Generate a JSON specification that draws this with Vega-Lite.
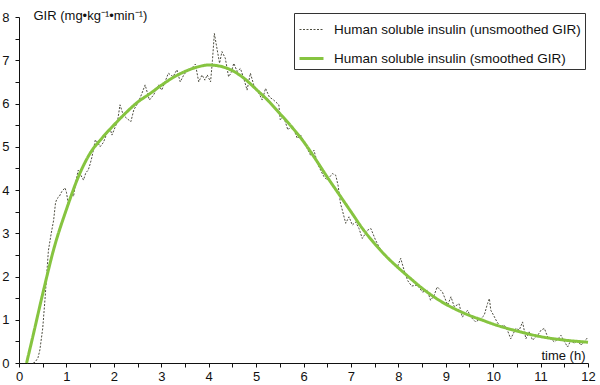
{
  "$schema": "https://vega.github.io/schema/vega-lite/v6.json",
  "autosize": "none",
  "width": 569,
  "height": 346,
  "padding": {"left": 19, "top": 17, "right": 12, "bottom": 22},
  "background": "white",
  "config": {"view": {"stroke": null}, "font": "Liberation Sans"},
  "datasets": {
    "unsmoothed": [
      {"t": 0.3, "gir": 0}, {"t": 0.34, "gir": 0.02}, {"t": 0.4, "gir": 0.12}, {"t": 0.44, "gir": 0.3}, {"t": 0.5, "gir": 0.8},
      {"t": 0.55, "gir": 1.5}, {"t": 0.62, "gir": 2.6}, {"t": 0.68, "gir": 3.0}, {"t": 0.73, "gir": 3.3}, {"t": 0.77, "gir": 3.7},
      {"t": 0.8, "gir": 3.8}, {"t": 0.85, "gir": 3.85}, {"t": 0.9, "gir": 3.96}, {"t": 0.97, "gir": 4.05}, {"t": 1.0, "gir": 3.95},
      {"t": 1.04, "gir": 3.68}, {"t": 1.08, "gir": 3.85}, {"t": 1.11, "gir": 3.92}, {"t": 1.15, "gir": 3.85}, {"t": 1.2, "gir": 4.2},
      {"t": 1.25, "gir": 4.46}, {"t": 1.3, "gir": 4.35}, {"t": 1.36, "gir": 4.23}, {"t": 1.41, "gir": 4.4}, {"t": 1.46, "gir": 4.46},
      {"t": 1.5, "gir": 4.6}, {"t": 1.54, "gir": 4.77}, {"t": 1.61, "gir": 5.16}, {"t": 1.66, "gir": 5.1}, {"t": 1.71, "gir": 5.0},
      {"t": 1.78, "gir": 5.1}, {"t": 1.85, "gir": 5.3}, {"t": 1.92, "gir": 5.43}, {"t": 1.96, "gir": 5.27}, {"t": 2.03, "gir": 5.46},
      {"t": 2.08, "gir": 5.6}, {"t": 2.13, "gir": 5.97}, {"t": 2.2, "gir": 5.73}, {"t": 2.28, "gir": 5.65}, {"t": 2.36, "gir": 5.58},
      {"t": 2.42, "gir": 5.85}, {"t": 2.52, "gir": 6.04}, {"t": 2.58, "gir": 6.2}, {"t": 2.66, "gir": 6.43}, {"t": 2.75, "gir": 6.08},
      {"t": 2.84, "gir": 6.2}, {"t": 2.94, "gir": 6.43}, {"t": 3.01, "gir": 6.31}, {"t": 3.08, "gir": 6.5}, {"t": 3.15, "gir": 6.7},
      {"t": 3.25, "gir": 6.62}, {"t": 3.33, "gir": 6.78}, {"t": 3.4, "gir": 6.5}, {"t": 3.47, "gir": 6.65}, {"t": 3.53, "gir": 6.74},
      {"t": 3.61, "gir": 6.78}, {"t": 3.67, "gir": 6.85}, {"t": 3.72, "gir": 6.91}, {"t": 3.79, "gir": 6.5}, {"t": 3.86, "gir": 6.66},
      {"t": 3.92, "gir": 6.54}, {"t": 3.97, "gir": 6.66}, {"t": 4.04, "gir": 6.5}, {"t": 4.08, "gir": 7.0}, {"t": 4.12, "gir": 7.62},
      {"t": 4.18, "gir": 7.24}, {"t": 4.23, "gir": 6.93}, {"t": 4.28, "gir": 7.2}, {"t": 4.35, "gir": 7.05}, {"t": 4.42, "gir": 6.62},
      {"t": 4.47, "gir": 6.7}, {"t": 4.53, "gir": 6.93}, {"t": 4.6, "gir": 6.74}, {"t": 4.67, "gir": 6.81}, {"t": 4.74, "gir": 6.58},
      {"t": 4.81, "gir": 6.31}, {"t": 4.88, "gir": 6.7}, {"t": 4.95, "gir": 6.43}, {"t": 5.03, "gir": 6.3}, {"t": 5.13, "gir": 6.08},
      {"t": 5.2, "gir": 6.35}, {"t": 5.28, "gir": 6.15}, {"t": 5.37, "gir": 6.08}, {"t": 5.48, "gir": 5.97}, {"t": 5.51, "gir": 5.62},
      {"t": 5.58, "gir": 5.7}, {"t": 5.67, "gir": 5.39}, {"t": 5.76, "gir": 5.5}, {"t": 5.87, "gir": 5.19}, {"t": 5.94, "gir": 5.27},
      {"t": 6.02, "gir": 5.1}, {"t": 6.08, "gir": 4.96}, {"t": 6.15, "gir": 4.8}, {"t": 6.22, "gir": 4.92}, {"t": 6.3, "gir": 4.6},
      {"t": 6.36, "gir": 4.46}, {"t": 6.43, "gir": 4.31}, {"t": 6.5, "gir": 4.23}, {"t": 6.61, "gir": 4.38}, {"t": 6.68, "gir": 4.34},
      {"t": 6.73, "gir": 4.1}, {"t": 6.78, "gir": 3.69}, {"t": 6.82, "gir": 3.53}, {"t": 6.89, "gir": 3.23}, {"t": 6.96, "gir": 3.38},
      {"t": 7.03, "gir": 3.19}, {"t": 7.1, "gir": 3.26}, {"t": 7.17, "gir": 3.11}, {"t": 7.24, "gir": 2.88}, {"t": 7.35, "gir": 3.07},
      {"t": 7.42, "gir": 3.11}, {"t": 7.52, "gir": 2.84}, {"t": 7.59, "gir": 2.69}, {"t": 7.66, "gir": 2.57}, {"t": 7.77, "gir": 2.42},
      {"t": 7.87, "gir": 2.34}, {"t": 7.98, "gir": 2.22}, {"t": 8.05, "gir": 2.42}, {"t": 8.12, "gir": 2.15}, {"t": 8.2, "gir": 1.9},
      {"t": 8.28, "gir": 1.78}, {"t": 8.4, "gir": 1.8}, {"t": 8.51, "gir": 1.64}, {"t": 8.61, "gir": 1.68}, {"t": 8.68, "gir": 1.45},
      {"t": 8.75, "gir": 1.55}, {"t": 8.82, "gir": 1.76}, {"t": 8.93, "gir": 1.64}, {"t": 9.04, "gir": 1.34}, {"t": 9.11, "gir": 1.53},
      {"t": 9.18, "gir": 1.3}, {"t": 9.28, "gir": 1.37}, {"t": 9.35, "gir": 1.06}, {"t": 9.46, "gir": 1.22}, {"t": 9.53, "gir": 1.06},
      {"t": 9.63, "gir": 0.95}, {"t": 9.74, "gir": 1.03}, {"t": 9.81, "gir": 1.1}, {"t": 9.88, "gir": 1.37}, {"t": 9.92, "gir": 1.49},
      {"t": 9.95, "gir": 1.22}, {"t": 10.01, "gir": 1.1}, {"t": 10.08, "gir": 0.95}, {"t": 10.16, "gir": 0.83}, {"t": 10.23, "gir": 0.88},
      {"t": 10.3, "gir": 0.76}, {"t": 10.37, "gir": 0.56}, {"t": 10.48, "gir": 0.8}, {"t": 10.55, "gir": 0.76}, {"t": 10.62, "gir": 0.95},
      {"t": 10.69, "gir": 0.56}, {"t": 10.76, "gir": 0.72}, {"t": 10.83, "gir": 0.53}, {"t": 10.94, "gir": 0.64}, {"t": 11.01, "gir": 0.76},
      {"t": 11.08, "gir": 0.8}, {"t": 11.15, "gir": 0.6}, {"t": 11.22, "gir": 0.55}, {"t": 11.29, "gir": 0.49}, {"t": 11.36, "gir": 0.55},
      {"t": 11.43, "gir": 0.64}, {"t": 11.5, "gir": 0.5}, {"t": 11.57, "gir": 0.37}, {"t": 11.64, "gir": 0.53}, {"t": 11.71, "gir": 0.45},
      {"t": 11.78, "gir": 0.53}, {"t": 11.85, "gir": 0.41}, {"t": 11.92, "gir": 0.49}, {"t": 12.0, "gir": 0.6}
    ],
    "smoothed": [
      {"t": 0.16, "gir": 0}, {"t": 0.3, "gir": 0.65}, {"t": 0.5, "gir": 1.6}, {"t": 0.75, "gir": 2.7}, {"t": 1.0, "gir": 3.55},
      {"t": 1.25, "gir": 4.3}, {"t": 1.5, "gir": 4.85}, {"t": 1.75, "gir": 5.2}, {"t": 2.0, "gir": 5.5}, {"t": 2.25, "gir": 5.78},
      {"t": 2.5, "gir": 6.03}, {"t": 2.75, "gir": 6.22}, {"t": 3.0, "gir": 6.42}, {"t": 3.25, "gir": 6.6}, {"t": 3.5, "gir": 6.74},
      {"t": 3.75, "gir": 6.84}, {"t": 4.0, "gir": 6.89}, {"t": 4.25, "gir": 6.86}, {"t": 4.5, "gir": 6.76}, {"t": 4.75, "gir": 6.58},
      {"t": 5.0, "gir": 6.33}, {"t": 5.25, "gir": 6.07}, {"t": 5.5, "gir": 5.77}, {"t": 5.75, "gir": 5.46}, {"t": 6.0, "gir": 5.12},
      {"t": 6.25, "gir": 4.72}, {"t": 6.5, "gir": 4.3}, {"t": 6.75, "gir": 3.9}, {"t": 7.0, "gir": 3.5}, {"t": 7.25, "gir": 3.1},
      {"t": 7.5, "gir": 2.76}, {"t": 7.75, "gir": 2.46}, {"t": 8.0, "gir": 2.2}, {"t": 8.25, "gir": 1.96}, {"t": 8.5, "gir": 1.73},
      {"t": 8.75, "gir": 1.53}, {"t": 9.0, "gir": 1.36}, {"t": 9.25, "gir": 1.22}, {"t": 9.5, "gir": 1.1}, {"t": 9.75, "gir": 1.0},
      {"t": 10.0, "gir": 0.9}, {"t": 10.5, "gir": 0.74}, {"t": 11.0, "gir": 0.61}, {"t": 11.5, "gir": 0.53}, {"t": 12.0, "gir": 0.48}
    ]
  },
  "encoding": {
    "x": {
      "field": "t", "type": "quantitative",
      "scale": {"domain": [0, 12], "nice": false},
      "axis": {
        "title": "time (h)", "titleX": 566, "titleY": -4, "titleAlign": "right", "titleAnchor": null,
        "titleBaseline": "alphabetic", "titleFontSize": 13, "titleFontWeight": "normal", "titleColor": "#111",
        "values": [0, 0.5, 1, 1.5, 2, 2.5, 3, 3.5, 4, 4.5, 5, 5.5, 6, 6.5, 7, 7.5, 8, 8.5, 9, 9.5, 10, 10.5, 11, 11.5, 12],
        "labelExpr": "datum.value % 1 === 0 ? format(datum.value, 'd') : ''",
        "labelFontSize": 13, "labelColor": "#111", "labelPadding": 3, "labelFlush": false,
        "tickSize": 4, "tickColor": "#111", "domainColor": "#111", "grid": false,
        "encode": {"ticks": {"update": {"y": [{"test": "datum.value % 1 === 0", "value": -4}, {"value": 0}]}}}
      }
    },
    "y": {
      "field": "gir", "type": "quantitative",
      "scale": {"domain": [0, 8], "nice": false},
      "axis": {
        "title": "GIR (mg•kg⁻¹•min⁻¹)", "titleAngle": 0, "titleAlign": "left", "titleAnchor": null,
        "titleBaseline": "alphabetic", "titleX": 14, "titleY": 2, "titleFontSize": 13, "titleFontWeight": "normal", "titleColor": "#111",
        "values": [0, 0.5, 1, 1.5, 2, 2.5, 3, 3.5, 4, 4.5, 5, 5.5, 6, 6.5, 7, 7.5, 8],
        "labelExpr": "datum.value % 1 === 0 ? format(datum.value, 'd') : ''",
        "labelFontSize": 13, "labelColor": "#111", "labelPadding": 6, "labelFlush": false,
        "tickSize": 4, "tickColor": "#111", "domainColor": "#111", "grid": false,
        "encode": {"ticks": {"update": {"x": [{"test": "datum.value % 1 === 0", "value": 4}, {"value": 0}]}}}
      }
    }
  },
  "layer": [
    {
      "data": {"name": "unsmoothed"},
      "mark": {"type": "line", "interpolate": "linear"},
      "encoding": {
        "color": {
          "datum": "Human soluble insulin (unsmoothed GIR)",
          "scale": {"domain": ["Human soluble insulin (unsmoothed GIR)", "Human soluble insulin (smoothed GIR)"], "range": ["#4d4d40", "#86c440"]},
          "legend": {"title": null, "orient": "none", "legendX": 275, "legendY": -4, "strokeColor": "#333", "fillColor": "white", "padding": 4, "rowPadding": 9, "labelFontSize": 13.5, "labelFont": "Liberation Sans", "labelColor": "#111", "labelLimit": 400, "symbolType": "stroke", "symbolSize": 576, "labelOffset": 9}
        },
        "strokeDash": {
          "datum": "Human soluble insulin (unsmoothed GIR)",
          "scale": {"domain": ["Human soluble insulin (unsmoothed GIR)", "Human soluble insulin (smoothed GIR)"], "range": [[2, 1.5], [1, 0]]},
          "legend": {"title": null, "orient": "none", "legendX": 275, "legendY": -4, "strokeColor": "#333", "fillColor": "white", "padding": 4, "rowPadding": 9, "labelFontSize": 13.5, "labelFont": "Liberation Sans", "labelColor": "#111", "labelLimit": 400, "symbolType": "stroke", "symbolSize": 576, "labelOffset": 9}
        },
        "strokeWidth": {
          "datum": "Human soluble insulin (unsmoothed GIR)", "type": "ordinal",
          "scale": {"domain": ["Human soluble insulin (unsmoothed GIR)", "Human soluble insulin (smoothed GIR)"], "range": [1, 3]},
          "legend": {"title": null, "orient": "none", "legendX": 275, "legendY": -4, "strokeColor": "#333", "fillColor": "white", "padding": 4, "rowPadding": 9, "labelFontSize": 13.5, "labelFont": "Liberation Sans", "labelColor": "#111", "labelLimit": 400, "symbolType": "stroke", "symbolSize": 576, "labelOffset": 9}
        }
      }
    },
    {
      "data": {"name": "smoothed"},
      "mark": {"type": "line", "interpolate": "monotone"},
      "encoding": {
        "color": {"datum": "Human soluble insulin (smoothed GIR)"},
        "strokeDash": {"datum": "Human soluble insulin (smoothed GIR)"},
        "strokeWidth": {"datum": "Human soluble insulin (smoothed GIR)", "type": "ordinal"}
      }
    }
  ]
}
